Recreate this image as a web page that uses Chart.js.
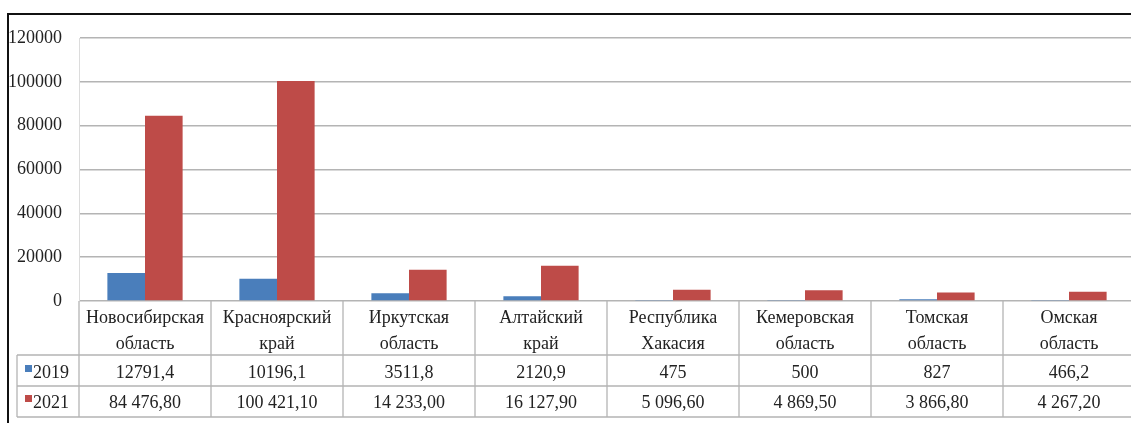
<!DOCTYPE html>
<html>
<head>
<meta charset="utf-8">
<script src="https://cdn.jsdelivr.net/npm/chart.js@4/dist/chart.umd.min.js"></script>
<style>
  html, body { margin: 0; padding: 0; background: #fff; overflow: hidden; }
  #wrap { width: 1140px; height: 423px; position: relative; }
</style>
</head>
<body>
<div id="wrap"><canvas id="c"></canvas></div>
<script>
const categories = [
  ["Новосибирская", "область"],
  ["Красноярский", "край"],
  ["Иркутская", "область"],
  ["Алтайский", "край"],
  ["Республика", "Хакасия"],
  ["Кемеровская", "область"],
  ["Томская", "область"],
  ["Омская", "область"]
];
const seriesNames = ["2019", "2021"];
const values2019 = [12791.4, 10196.1, 3511.8, 2120.9, 475, 500, 827, 466.2];
const values2021 = [84476.8, 100421.1, 14233.0, 16127.9, 5096.6, 4869.5, 3866.8, 4267.2];
const tableText2019 = ["12791,4", "10196,1", "3511,8", "2120,9", "475", "500", "827", "466,2"];
const tableText2021 = ["84 476,80", "100 421,10", "14 233,00", "16 127,90", "5 096,60", "4 869,50", "3 866,80", "4 267,20"];
const yTicks = [0, 20000, 40000, 60000, 80000, 100000, 120000];

const BLUE = "#4a7ebb";
const RED = "#be4b48";
const FONT = "'Liberation Serif', Tinos, 'Times New Roman', serif";
const TEXT = "#222";

const tablePlugin = {
  id: "tablePlugin",
  afterDraw(chart) {
    const ctx = chart.ctx;
    const x = chart.scales.x;
    const area = chart.chartArea;
    const n = categories.length;
    const cw = (x.getPixelForValue(1) - x.getPixelForValue(0));
    const bounds = [];
    for (let i = 0; i <= n; i++) bounds.push(x.getPixelForValue(0) - cw / 2 + i * cw);
    const y0 = area.bottom;
    const r1 = 355, r2 = 386, r3 = 417;
    const leftCol = 17;
    ctx.save();
    ctx.strokeStyle = "#b4b4b4";
    ctx.lineWidth = 1.3;
    ctx.beginPath();
    [r1, r2, r3].forEach(y => { ctx.moveTo(leftCol, y); ctx.lineTo(chart.width, y); });
    ctx.moveTo(leftCol, r1); ctx.lineTo(leftCol, r3);
    bounds.forEach(b => { ctx.moveTo(b, y0); ctx.lineTo(b, r3); });
    ctx.stroke();

    ctx.fillStyle = TEXT;
    ctx.font = "18px " + FONT;
    ctx.textAlign = "center";
    ctx.textBaseline = "middle";
    for (let i = 0; i < n; i++) {
      const cx = x.getPixelForValue(i);
      ctx.fillText(categories[i][0], cx, 318);
      ctx.fillText(categories[i][1], cx, 344);
      ctx.fillText(tableText2019[i], cx, 373);
      ctx.fillText(tableText2021[i], cx, 403);
    }
    ctx.fillStyle = BLUE;
    ctx.fillRect(25, 365, 7, 7);
    ctx.fillStyle = RED;
    ctx.fillRect(25, 395, 7, 7);
    ctx.fillStyle = TEXT;
    ctx.textAlign = "left";
    ctx.fillText(seriesNames[0], 33, 373);
    ctx.fillText(seriesNames[1], 33, 403);

    ctx.strokeStyle = "#111";
    ctx.lineWidth = 2;
    ctx.beginPath();
    ctx.moveTo(8, 423);
    ctx.lineTo(8, 14);
    ctx.lineTo(chart.width, 14);
    ctx.stroke();
    ctx.restore();
  }
};

const bgPlugin = {
  id: "bg",
  beforeDraw(chart) {
    const ctx = chart.ctx;
    ctx.save();
    ctx.fillStyle = "#fff";
    ctx.fillRect(0, 0, chart.width, chart.height);
    ctx.restore();
  }
};

new Chart(document.getElementById("c"), {
  type: "bar",
  data: {
    labels: categories,
    datasets: [
      { label: seriesNames[0], data: values2019, backgroundColor: BLUE },
      { label: seriesNames[1], data: values2021, backgroundColor: RED }
    ]
  },
  options: {
    responsive: true,
    maintainAspectRatio: false,
    animation: false,
    layout: { padding: { top: 38, bottom: 122, left: 0, right: 5 } },
    datasets: { bar: { categoryPercentage: 0.57, barPercentage: 1.0 } },
    plugins: { legend: { display: false }, tooltip: { enabled: false } },
    scales: {
      x: {
        afterFit(s) { s.height = 0; },
        ticks: { display: false },
        grid: { display: false },
        border: { display: false }
      },
      y: {
        min: 0,
        max: 120000,
        afterFit(s) { s.width = 79; },
        afterBuildTicks(s) { s.ticks = yTicks.map(v => ({ value: v })); },
        ticks: {
          padding: 17,
          color: TEXT,
          font: { family: FONT, size: 18 },
          callback: v => String(v)
        },
        grid: { color: "#b4b4b4", lineWidth: 1.6, drawTicks: false },
        border: { display: true, color: "#dcdcdc", width: 1 }
      }
    }
  },
  plugins: [bgPlugin, tablePlugin]
});
</script>
</body>
</html>
